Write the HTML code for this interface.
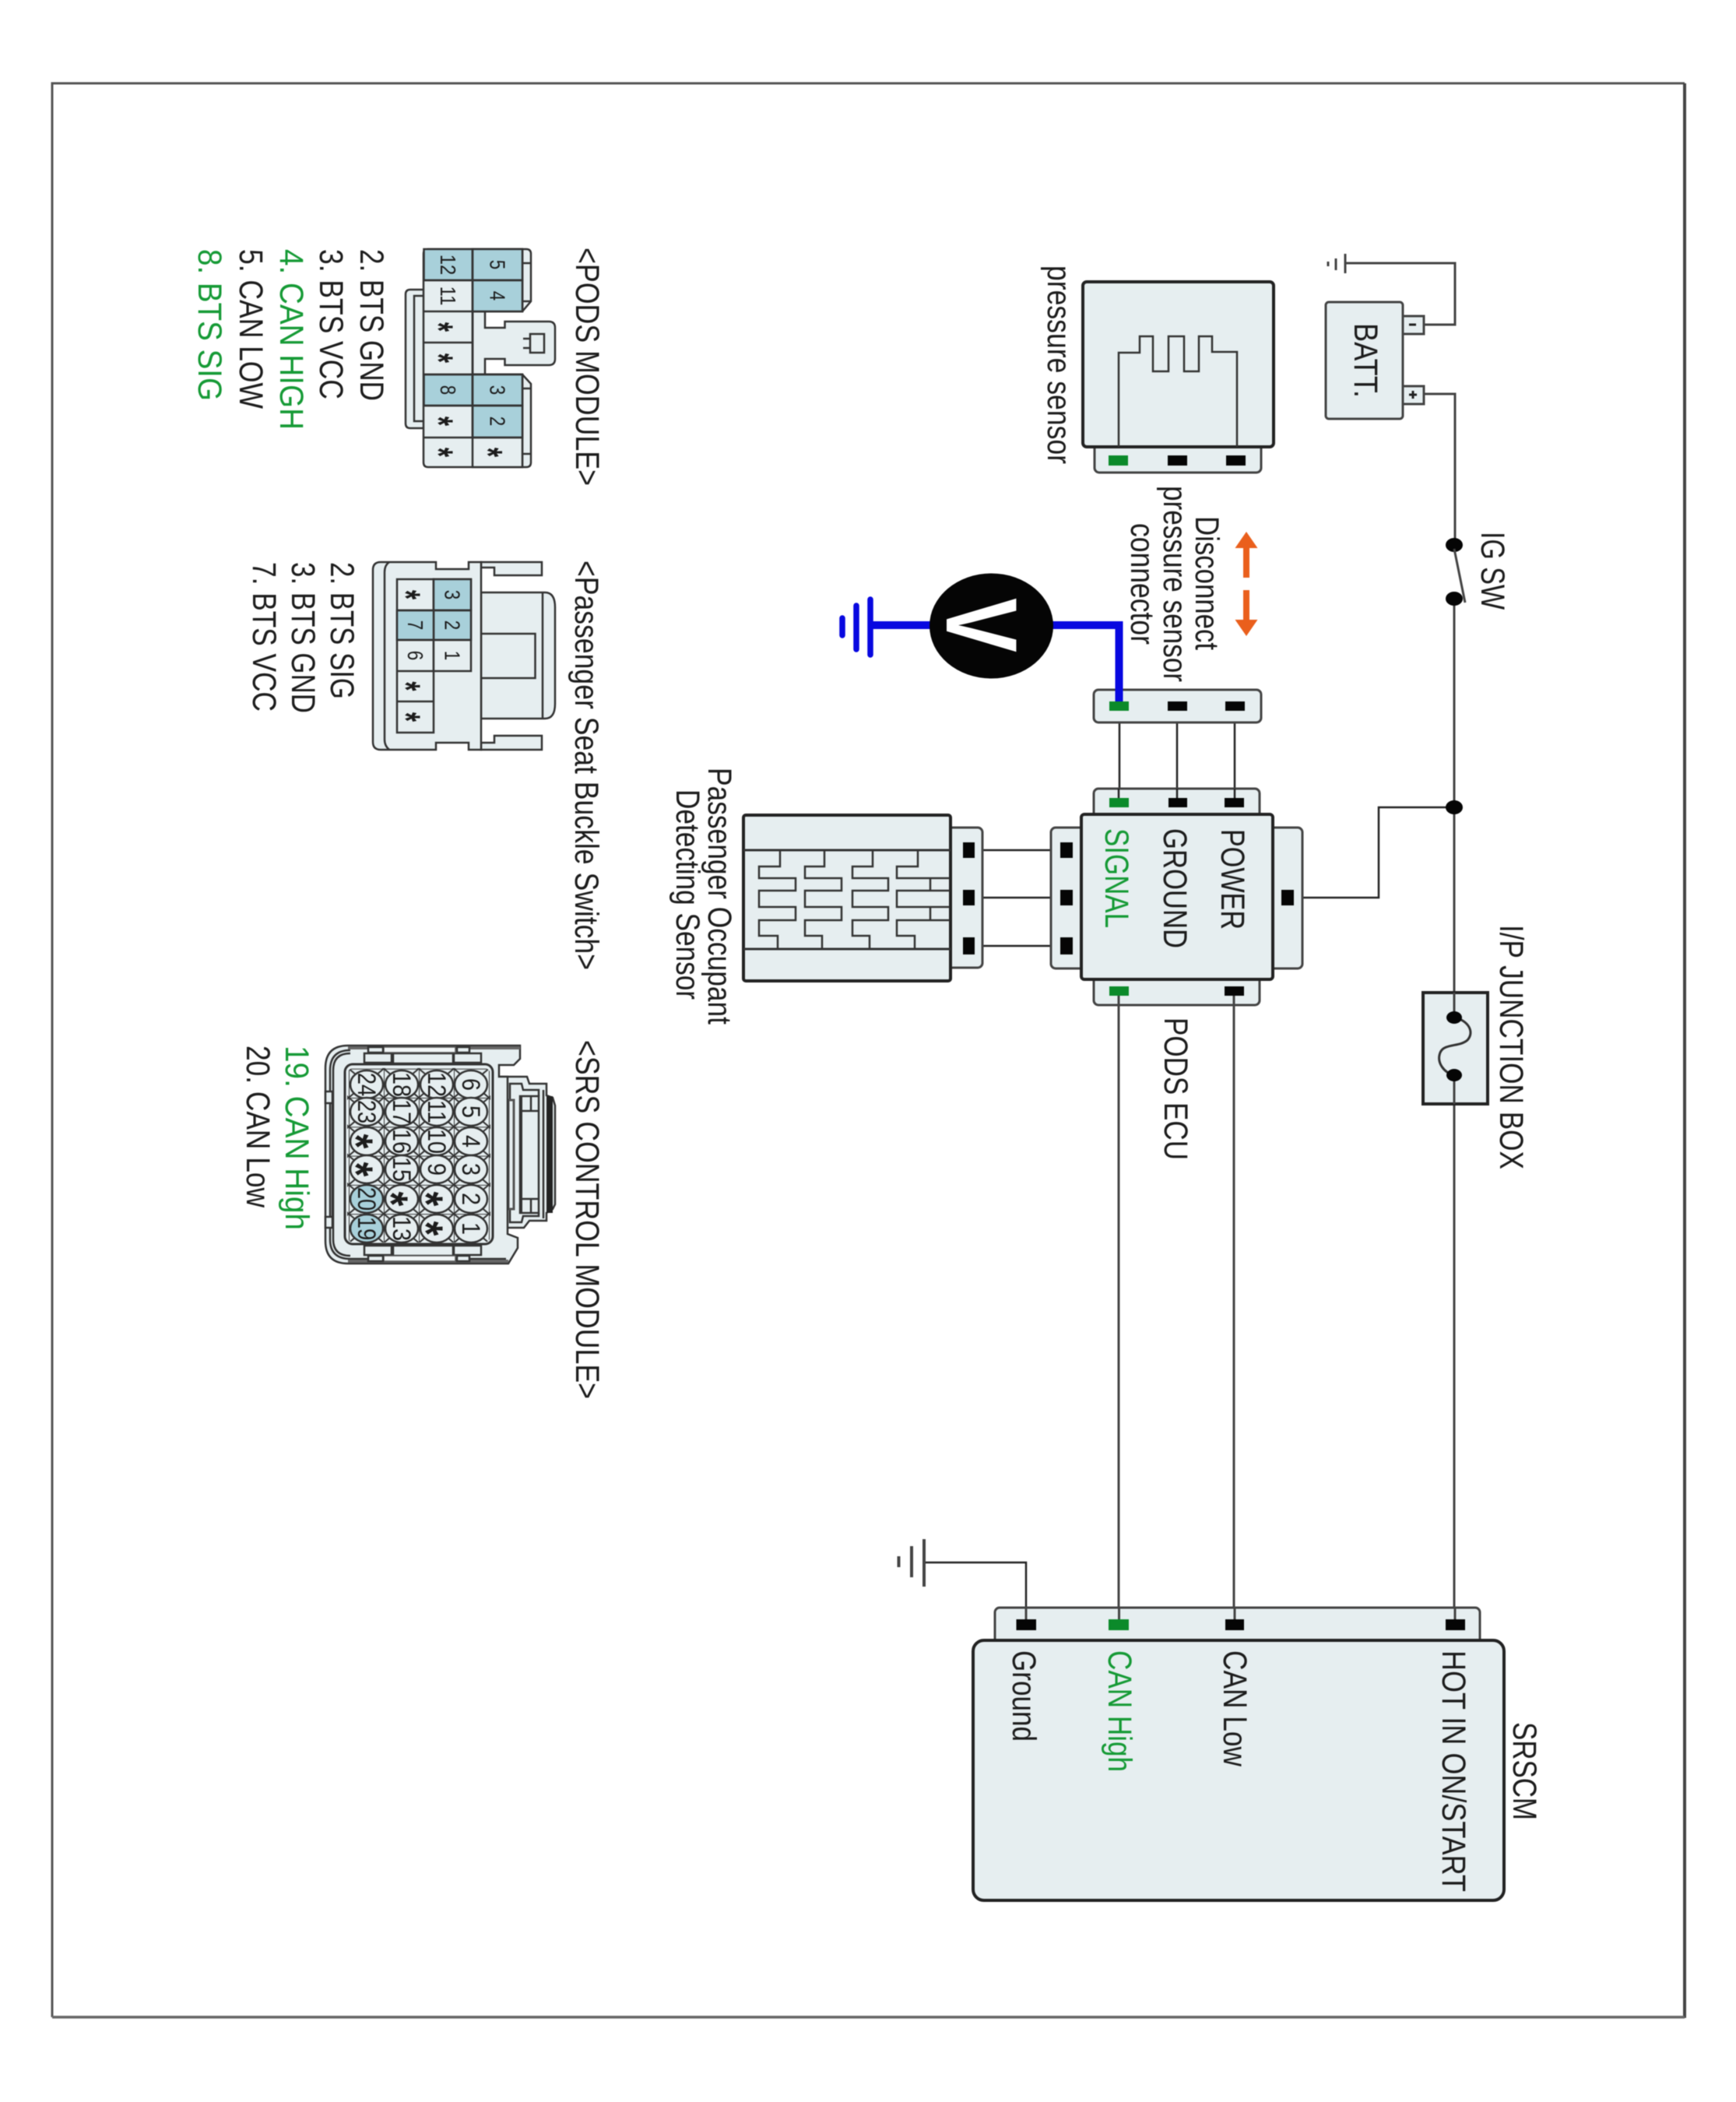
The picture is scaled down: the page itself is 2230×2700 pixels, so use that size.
<!DOCTYPE html>
<html>
<head>
<meta charset="utf-8">
<title>Diagram</title>
<style>
html,body{margin:0;padding:0;background:#fff}
svg{display:block;filter:blur(.5px)}
text{font-family:"Liberation Sans",sans-serif;fill:#1c1c1c}
.t{font-size:43px}
.g{fill:#159a35}
.d{font-size:28px;text-anchor:middle}
.c{font-size:32px;text-anchor:middle}
.s{font-size:52px;text-anchor:middle;font-weight:bold}
.b{fill:#e6eef0;stroke:#222;stroke-width:4}
.m{fill:#e6eef0;stroke:#444;stroke-width:3}
.w{fill:none;stroke:#444;stroke-width:3}
.y{fill:none;stroke:#222;stroke-width:2.5}
.l{fill:none;stroke:#333;stroke-width:2.5}
.n{fill:#e6eef0;stroke:#333;stroke-width:2.5}
.h{fill:#a8d0da;stroke:#333;stroke-width:2.5}
.k{fill:#050505}
.v{fill:#0b8a2a}
</style>
</head>
<body>
<svg xmlns="http://www.w3.org/2000/svg" width="2230" height="2700" viewBox="0 0 2230 2700">
<defs>
<pattern id="gr" patternUnits="userSpaceOnUse" x="493" y="1410" width="45" height="37.3">
<path d="M0 0H45M0 0V37.3M0 0L12 10M45 0L33 10M0 37.3L12 27M45 37.3L33 27" fill="none" stroke="#333" stroke-width="2"/>
</pattern>
</defs>
<rect width="2230" height="2700" fill="#fff"/>
<path fill="none" stroke="#555" stroke-width="3" d="M67 2591V107H2164"/>
<path fill="none" stroke="#444" stroke-width="4" d="M2164 107V2592"/>
<path fill="none" stroke="#666" stroke-width="3.500" d="M67 2591H2164"/>

<!-- wires -->
<path class="w" d="M1829 417H1869V338H1728"/>
<path class="w" d="M1829 506H1869V700M1868 769V1307M1868 1381V2085"/>
<path class="y" d="M1868 1037H1771V1153H1662"/>
<path class="y" d="M1438 928V1030M1512 928V1030M1586 928V1030"/>
<path class="w" d="M1437 1270V2085M1585 1270V2085"/>
<path class="y" d="M1318 2085V2007H1187"/>
<path class="y" d="M1252 1092H1362M1252 1153H1362M1252 1215H1362"/>
<path class="w" d="M1437 585V574M1512 585V574M1586 585V574"/>
<!-- grounds -->
<path class="w" d="M1728 326V351M1716 332V347M1706 336V342" stroke-width="3"/>
<path fill="none" stroke="#444" stroke-width="4" d="M1187 1977V2038M1171 1986V2026M1154.5 1999V2013"/>

<!-- battery -->
<rect class="m" x="1802" y="406" width="27" height="23"/>
<rect class="m" x="1802" y="496" width="27" height="23"/>
<rect class="m" x="1703" y="388" width="99" height="150" rx="4"/>
<path fill="none" stroke="#222" stroke-width="3" d="M1810 417H1819M1810 507H1820M1815 502V512"/>
<text class="t" transform="translate(1740,415) rotate(90)" textLength="96" lengthAdjust="spacingAndGlyphs">BATT.</text>

<!-- switch -->
<ellipse class="k" cx="1868" cy="700" rx="11" ry="9"/>
<ellipse class="k" cx="1868" cy="769" rx="11" ry="9"/>
<path class="w" d="M1868 705L1882 774"/>
<text class="t" transform="translate(1903,683) rotate(90)" textLength="100" lengthAdjust="spacingAndGlyphs">IG SW</text>
<ellipse class="k" cx="1868" cy="1037" rx="11" ry="9"/>

<!-- fuse -->
<rect class="b" x="1828" y="1275" width="83" height="143"/>
<path class="w" d="M1868 1275V1307M1868 1381V1418"/>
<path fill="none" stroke="#333" stroke-width="3" d="M1868 1307C1885 1310,1895 1325,1885 1336C1875 1345,1855 1340,1850 1352C1845 1365,1855 1378,1868 1381"/>
<ellipse class="k" cx="1868" cy="1307" rx="10" ry="8"/>
<ellipse class="k" cx="1868" cy="1381" rx="10" ry="8"/>
<text class="t" transform="translate(1927,1188) rotate(90)" textLength="314" lengthAdjust="spacingAndGlyphs">I/P JUNCTION BOX</text>

<!-- pressure sensor -->
<rect class="m" x="1406" y="560" width="214" height="47" rx="6"/>
<rect class="b" x="1391" y="362" width="245" height="212" rx="5"/>
<path class="l" d="M1437 574V453H1464V432H1481V477H1501V432H1521V477H1540V432H1557V452H1589V574"/>
<rect class="v" x="1424" y="585" width="25" height="13"/>
<rect class="k" x="1500" y="585" width="25" height="13"/>
<rect class="k" x="1575" y="585" width="25" height="13"/>
<text class="t" transform="translate(1346,341) rotate(90)" textLength="255" lengthAdjust="spacingAndGlyphs">pressure sensor</text>

<!-- disconnect arrows -->
<path fill="#ea5f1c" d="M1601 683L1615.500 704H1605V742H1597V704H1586.500Z"/>
<path fill="#ea5f1c" d="M1601 817L1615.500 796H1605V758H1597V796H1586.500Z"/>
<text class="t" transform="translate(1536,663) rotate(90)" textLength="172" lengthAdjust="spacingAndGlyphs">Disconnect</text>
<text class="t" transform="translate(1495,624) rotate(90)" textLength="252" lengthAdjust="spacingAndGlyphs">pressure sensor</text>
<text class="t" transform="translate(1453,672) rotate(90)" textLength="156" lengthAdjust="spacingAndGlyphs">connector</text>

<!-- middle connector -->
<rect class="m" x="1405" y="886" width="215" height="42" rx="6"/>
<rect class="k" x="1500" y="901" width="25" height="12"/>
<rect class="k" x="1574" y="901" width="25" height="12"/>
<path fill="none" stroke="#0808e0" stroke-width="10" d="M1118 803H1437.500V903"/>
<rect class="v" x="1425" y="901" width="25" height="12"/>
<path fill="none" stroke="#0808e0" stroke-width="7.500" stroke-linecap="round" d="M1118 770V841M1100 778V834M1082 794V816"/>
<ellipse class="k" cx="1273.500" cy="804" rx="79.500" ry="67.500"/>
<text transform="translate(1216,768) rotate(90)" font-size="130" font-weight="bold" style="font-size:130px;fill:#fff" textLength="70" lengthAdjust="spacingAndGlyphs">V</text>

<!-- PODS ECU -->
<rect class="m" x="1405" y="1013" width="213" height="50" rx="6"/>
<rect class="m" x="1405" y="1240" width="213" height="51" rx="6"/>
<rect class="m" x="1350" y="1063" width="60" height="181" rx="6"/>
<rect class="m" x="1615" y="1063" width="58" height="181" rx="6"/>
<path class="y" d="M1437 1030V1013M1512 1030V1013M1586 1030V1013"/>
<path class="w" d="M1437 1291V1270M1585 1291V1270"/>
<rect class="b" x="1389" y="1046" width="246" height="212" rx="4"/>
<rect class="v" x="1425" y="1025" width="25" height="12"/>
<rect class="k" x="1501" y="1025" width="24" height="12"/>
<rect class="k" x="1573" y="1025" width="25" height="12"/>
<rect class="v" x="1425" y="1267" width="25" height="12"/>
<rect class="k" x="1573" y="1267" width="25" height="12"/>
<rect class="k" x="1362" y="1082" width="16" height="20"/>
<rect class="k" x="1362" y="1143" width="16" height="20"/>
<rect class="k" x="1362" y="1204" width="16" height="22"/>
<rect class="k" x="1646" y="1143" width="16" height="20"/>
<text class="t" transform="translate(1569,1065) rotate(90)" textLength="129" lengthAdjust="spacingAndGlyphs">POWER</text>
<text class="t" transform="translate(1495,1064) rotate(90)" textLength="154" lengthAdjust="spacingAndGlyphs">GROUND</text>
<text class="t g" transform="translate(1420,1064) rotate(90)" textLength="128" lengthAdjust="spacingAndGlyphs">SIGNAL</text>
<text class="t" transform="translate(1496,1307) rotate(90)" textLength="183" lengthAdjust="spacingAndGlyphs">PODS ECU</text>

<!-- occupant sensor -->
<rect class="m" x="1205" y="1063" width="57" height="180" rx="6"/>
<rect class="b" x="955" y="1047" width="266" height="213" rx="3"/>
<path fill="none" stroke="#333" stroke-width="3" d="M955 1092H1221M955 1219H1221"/>
<path class="l" d="M1002 1092V1113H975V1128H1022V1144H975V1165H1022V1182H975V1202H999V1219"/>
<path class="l" d="M1059 1092V1113H1034V1128H1081V1144H1034V1165H1081V1182H1034V1202H1056V1219"/>
<path class="l" d="M1121 1092V1113H1095V1128H1141V1144H1095V1165H1141V1182H1095V1202H1117V1219"/>
<path class="l" d="M1179 1092V1113H1152V1128H1220M1195 1128V1144M1220 1144H1152V1165H1220M1195 1165V1182M1220 1182H1152V1202H1175V1219"/>
<rect class="k" x="1237" y="1082" width="15" height="20"/>
<rect class="k" x="1237" y="1143" width="15" height="20"/>
<rect class="k" x="1237" y="1204" width="15" height="22"/>
<text class="t" transform="translate(910,986) rotate(90)" textLength="330" lengthAdjust="spacingAndGlyphs">Passenger Occupant</text>
<text class="t" transform="translate(869,1014) rotate(90)" textLength="270" lengthAdjust="spacingAndGlyphs">Detecting Sensor</text>

<!-- SRSCM -->
<rect class="m" x="1278" y="2065" width="623" height="60" rx="6"/>
<path class="w" d="M1318 2065V2085M1437.500 2065V2085M1586 2065V2085M1869 2065V2085"/>
<rect class="b" x="1250" y="2107" width="682" height="334" rx="14"/>
<rect class="k" x="1305.500" y="2080" width="25.500" height="14"/>
<rect class="v" x="1424" y="2080" width="26" height="14"/>
<rect class="k" x="1574" y="2080" width="24" height="14"/>
<rect class="k" x="1857" y="2080" width="25" height="14"/>
<text class="t" transform="translate(1301,2120) rotate(90)" textLength="117" lengthAdjust="spacingAndGlyphs">Ground</text>
<text class="t g" transform="translate(1424,2120) rotate(90)" textLength="156" lengthAdjust="spacingAndGlyphs">CAN High</text>
<text class="t" transform="translate(1572,2120) rotate(90)" textLength="149" lengthAdjust="spacingAndGlyphs">CAN Low</text>
<text class="t" transform="translate(1853,2120) rotate(90)" textLength="310" lengthAdjust="spacingAndGlyphs">HOT IN ON/START</text>
<text class="t" transform="translate(1944,2212) rotate(90)" textLength="126" lengthAdjust="spacingAndGlyphs">SRSCM</text>

<!-- PODS MODULE connector -->
<text class="t" transform="translate(740,318) rotate(90)" textLength="306" lengthAdjust="spacingAndGlyphs">&lt;PODS MODULE&gt;</text>
<path class="n" d="M544 372H527Q521 372 521 378V544Q521 550 527 550H544"/>
<path class="l" d="M544 380H532V541H544"/>
<path class="n" d="M607 400H623V421H648.500V413H705Q713 413 713 421V461Q713 469 705 469H648.500V461H623V481H607Z"/>
<path class="n" d="M607 320H676Q682 320 682 326V387L671 400H607Z"/>
<path class="n" d="M607 481H671L682 493V594Q682 600 676 600H607Z"/>
<path class="l" d="M671 320V400M671 481V600M671 338H682M671 387H682M671 499H682M671 583H682"/>
<rect class="n" x="681" y="429" width="18" height="24"/>
<path class="l" d="M681 435H672M681 447H672"/>
<path class="n" d="M550 320H671V400H607V481H671V600H550Q544 600 544 594V326Q544 320 550 320Z"/>
<rect class="h" x="544.500" y="320" width="62.500" height="40"/>
<rect class="h" x="607" y="320" width="64" height="40"/>
<rect class="h" x="607" y="360" width="64" height="40"/>
<rect class="h" x="544.500" y="481" width="62.500" height="40"/>
<rect class="h" x="607" y="481" width="64" height="40"/>
<rect class="h" x="607" y="521" width="64" height="41"/>
<path class="l" d="M544 360H671M544 400H607M544 440H607M544 481H671M544 521H671M544 562H671M607 320V600"/>
<text class="d" transform="translate(629.500,340) rotate(90) scale(.8,1)">5</text>
<text class="d" transform="translate(629.500,380) rotate(90) scale(.8,1)">4</text>
<text class="d" transform="translate(629.500,501) rotate(90) scale(.8,1)">3</text>
<text class="d" transform="translate(629.500,541) rotate(90) scale(.8,1)">2</text>
<text class="s" transform="translate(609,581) rotate(90) scale(.6,1)">*</text>
<text class="d" transform="translate(566,340) rotate(90) scale(.85,1)">12</text>
<text class="d" transform="translate(566,380) rotate(90) scale(.85,1)">11</text>
<text class="s" transform="translate(545.500,420) rotate(90) scale(.6,1)">*</text>
<text class="s" transform="translate(545.500,460) rotate(90) scale(.6,1)">*</text>
<text class="d" transform="translate(566,501) rotate(90) scale(.8,1)">8</text>
<text class="s" transform="translate(545.500,541) rotate(90) scale(.6,1)">*</text>
<text class="s" transform="translate(545.500,581) rotate(90) scale(.6,1)">*</text>
<text class="t" transform="translate(463,320) rotate(90)" textLength="195" lengthAdjust="spacingAndGlyphs">2. BTS GND</text>
<text class="t" transform="translate(411,320) rotate(90)" textLength="193" lengthAdjust="spacingAndGlyphs">3. BTS VCC</text>
<text class="t g" transform="translate(360,320) rotate(90)" textLength="232" lengthAdjust="spacingAndGlyphs">4. CAN HIGH</text>
<text class="t" transform="translate(308,320) rotate(90)" textLength="205" lengthAdjust="spacingAndGlyphs">5. CAN LOW</text>
<text class="t g" transform="translate(255,320) rotate(90)" textLength="195" lengthAdjust="spacingAndGlyphs">8. BTS SIG</text>

<!-- Passenger Seat Buckle connector -->
<text class="t" transform="translate(739,720) rotate(90)" textLength="526" lengthAdjust="spacingAndGlyphs">&lt;Passenger Seat Buckle Switch&gt;</text>
<path class="n" d="M618 761H700Q713 761 713 780V904Q713 923 700 923H618Z"/>
<path class="l" d="M697 761V923M618 814H687.500V871H618"/>
<path class="n" d="M618 722H696V739H635V729H618Z"/>
<path class="n" d="M618 963H696V945H635V954H618Z"/>
<path class="n" d="M489 722H560V731H602V722H618V963H602V954H560V963H489Q479 963 479 953V732Q479 722 489 722Z"/>
<path class="l" d="M500 722Q494 726 494 735V950Q494 958 500 963"/>
<rect class="n" x="510" y="744" width="47" height="197"/>
<rect class="n" x="557" y="744" width="48" height="118"/>
<rect class="h" x="557" y="744" width="48" height="40"/>
<rect class="h" x="557" y="784" width="48" height="38"/>
<rect class="h" x="510" y="784" width="47" height="38"/>
<path class="l" d="M510 822H605M510 862H557M510 901H557M510 784H605"/>
<text class="d" transform="translate(571.500,764) rotate(90) scale(.8,1)">3</text>
<text class="d" transform="translate(571.500,803) rotate(90) scale(.8,1)">2</text>
<text class="d" transform="translate(571.500,842) rotate(90) scale(.8,1)">1</text>
<text class="s" transform="translate(503.500,764) rotate(90) scale(.6,1)">*</text>
<text class="d" transform="translate(524,803) rotate(90) scale(.8,1)">7</text>
<text class="d" transform="translate(524,842) rotate(90) scale(.8,1)">6</text>
<text class="s" transform="translate(503.500,881.500) rotate(90) scale(.6,1)">*</text>
<text class="s" transform="translate(503.500,921) rotate(90) scale(.6,1)">*</text>
<text class="t" transform="translate(425,722) rotate(90)" textLength="176" lengthAdjust="spacingAndGlyphs">2. BTS SIG</text>
<text class="t" transform="translate(375,722) rotate(90)" textLength="194" lengthAdjust="spacingAndGlyphs">3. BTS GND</text>
<text class="t" transform="translate(325,722) rotate(90)" textLength="192" lengthAdjust="spacingAndGlyphs">7. BTS VCC</text>

<!-- SRS CONTROL MODULE connector -->
<text class="t" transform="translate(740,1336) rotate(90)" textLength="461" lengthAdjust="spacingAndGlyphs">&lt;SRS CONTROL MODULE&gt;</text>
<path class="n" d="M641 1383H677L680 1392H702V1407L710 1410L713 1420V1547L710 1553L702 1558V1568H680L673 1577H650V1383Z"/>
<path class="l" d="M655 1413V1392H670L672 1400H692V1408M655 1553V1570H670L672 1562H692V1558"/>
<rect x="653" y="1413" width="7" height="140" fill="#e6eef0" stroke="#555" stroke-width="3"/>
<rect x="668" y="1408" width="24" height="150" fill="#e6eef0" stroke="#333" stroke-width="2.500"/>
<path fill="none" stroke="#333" stroke-width="4" d="M669 1408V1558"/>
<path class="l" d="M668 1427H692M668 1540H692M682 1408V1427M682 1540V1558M698 1400V1565"/>
<rect x="702" y="1408" width="8" height="150" fill="#222"/>
<path class="n" d="M668 1343V1360L660 1368H641V1383H652V1585L665 1590V1603L653 1623H447Q418 1623 418 1594V1372Q418 1343 447 1343Z"/>
<path class="l" d="M450 1349Q424 1349 424 1375V1592Q424 1617 450 1617H650M450 1353Q428 1353 428 1375V1592Q428 1613 450 1613"/>
<rect class="n" x="418" y="1402" width="9" height="15"/>
<rect class="n" x="418" y="1563" width="9" height="14"/>
<path class="l" d="M427 1417V1563"/>
<path fill="none" stroke="#666" stroke-width="4" d="M447 1346H668M447 1620H653"/>
<rect class="n" x="468" y="1353" width="35" height="12"/>
<rect class="n" x="505" y="1353" width="77" height="13"/>
<rect class="n" x="583" y="1353" width="35" height="12"/>
<rect x="493" y="1345" width="92" height="7" fill="#f2f6f7" stroke="#555" stroke-width="1.500"/>
<rect class="n" x="473" y="1345" width="19" height="7"/>
<rect class="n" x="587" y="1345" width="16" height="7"/>
<rect class="n" x="468" y="1600" width="35" height="12"/>
<rect class="n" x="505" y="1600" width="77" height="13"/>
<rect class="n" x="583" y="1600" width="35" height="12"/>
<rect x="493" y="1613" width="92" height="7" fill="#f2f6f7" stroke="#555" stroke-width="1.500"/>
<rect class="n" x="473" y="1613" width="19" height="7"/>
<rect class="n" x="587" y="1613" width="16" height="7"/>
<rect x="443" y="1367" width="190" height="231" rx="10" fill="#e6eef0" stroke="#333" stroke-width="3"/>
<rect x="446" y="1372" width="184" height="224" rx="8" fill="url(#gr)"/>
<g fill="#e6eef0" stroke="#333" stroke-width="2.500">
<ellipse cx="605" cy="1393" rx="21" ry="18"/><ellipse cx="605" cy="1428" rx="21" ry="18"/><ellipse cx="605" cy="1466" rx="21" ry="18"/><ellipse cx="605" cy="1502" rx="21" ry="18"/><ellipse cx="605" cy="1540" rx="21" ry="18"/><ellipse cx="605" cy="1578" rx="21" ry="18"/>
<ellipse cx="561" cy="1393" rx="21" ry="18"/><ellipse cx="561" cy="1428" rx="21" ry="18"/><ellipse cx="561" cy="1466" rx="21" ry="18"/><ellipse cx="561" cy="1502" rx="21" ry="18"/><ellipse cx="561" cy="1540" rx="21" ry="18"/><ellipse cx="561" cy="1578" rx="21" ry="18"/>
<ellipse cx="516" cy="1393" rx="21" ry="18"/><ellipse cx="516" cy="1428" rx="21" ry="18"/><ellipse cx="516" cy="1466" rx="21" ry="18"/><ellipse cx="516" cy="1502" rx="21" ry="18"/><ellipse cx="516" cy="1540" rx="21" ry="18"/><ellipse cx="516" cy="1578" rx="21" ry="18"/>
<ellipse cx="471" cy="1393" rx="21" ry="18"/><ellipse cx="471" cy="1428" rx="21" ry="18"/><ellipse cx="471" cy="1466" rx="21" ry="18"/><ellipse cx="471" cy="1502" rx="21" ry="18"/>
<ellipse cx="471" cy="1540" rx="21" ry="18" fill="#a8d0da"/><ellipse cx="471" cy="1578" rx="21" ry="18" fill="#a8d0da"/>
</g>
<text class="c" transform="translate(594,1393) rotate(90) scale(.9,1)">6</text>
<text class="c" transform="translate(594,1428) rotate(90) scale(.9,1)">5</text>
<text class="c" transform="translate(594,1466) rotate(90) scale(.9,1)">4</text>
<text class="c" transform="translate(594,1502) rotate(90) scale(.9,1)">3</text>
<text class="c" transform="translate(594,1540) rotate(90) scale(.9,1)">2</text>
<text class="c" transform="translate(594,1578) rotate(90) scale(.9,1)">1</text>
<text class="c" transform="translate(550,1393) rotate(90) scale(.9,1)">12</text>
<text class="c" transform="translate(550,1428) rotate(90) scale(.9,1)">11</text>
<text class="c" transform="translate(550,1466) rotate(90) scale(.9,1)">10</text>
<text class="c" transform="translate(550,1502) rotate(90) scale(.9,1)">9</text>
<text class="s" style="font-size:60px" transform="translate(527,1540) rotate(90) scale(.8,1)">*</text>
<text class="s" style="font-size:60px" transform="translate(527,1578) rotate(90) scale(.8,1)">*</text>
<text class="c" transform="translate(505,1393) rotate(90) scale(.9,1)">18</text>
<text class="c" transform="translate(505,1428) rotate(90) scale(.9,1)">17</text>
<text class="c" transform="translate(505,1466) rotate(90) scale(.9,1)">16</text>
<text class="c" transform="translate(505,1502) rotate(90) scale(.9,1)">15</text>
<text class="s" style="font-size:60px" transform="translate(482,1540) rotate(90) scale(.8,1)">*</text>
<text class="c" transform="translate(505,1578) rotate(90) scale(.9,1)">13</text>
<text class="c" transform="translate(460,1393) rotate(90) scale(.85,1)">24</text>
<text class="c" transform="translate(460,1428) rotate(90) scale(.85,1)">23</text>
<text class="s" style="font-size:60px" transform="translate(437,1466) rotate(90) scale(.8,1)">*</text>
<text class="s" style="font-size:60px" transform="translate(437,1502) rotate(90) scale(.8,1)">*</text>
<text class="c" transform="translate(460,1540) rotate(90) scale(.85,1)">20</text>
<text class="c" transform="translate(460,1578) rotate(90) scale(.85,1)">19</text>
<text class="t g" transform="translate(367,1343) rotate(90)" textLength="237" lengthAdjust="spacingAndGlyphs">19. CAN High</text>
<text class="t" transform="translate(317,1343) rotate(90)" textLength="208" lengthAdjust="spacingAndGlyphs">20. CAN Low</text>
</svg>
</body>
</html>
